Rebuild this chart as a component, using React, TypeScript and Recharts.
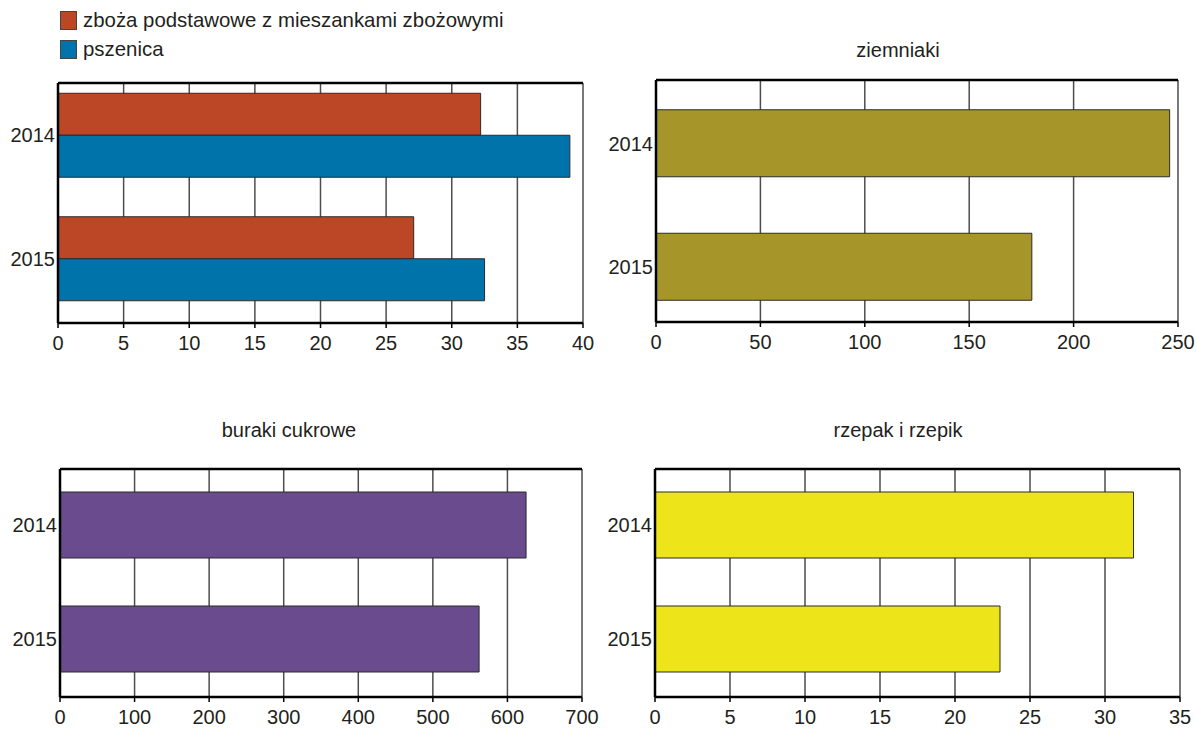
import { BarChart, Bar, XAxis, YAxis, CartesianGrid } from "recharts";

const years = ["2014", "2015"];

const zbozaValues = [32.2, 27.1];
const pszenicaValues = [39.0, 32.5];
const ziemniakiValues = [246, 180];
const burakiValues = [625, 562];
const rzepakValues = [31.9, 23.0];

const zbozaTicks = [0, 5, 10, 15, 20, 25, 30, 35, 40];
const ziemniakiTicks = [0, 50, 100, 150, 200, 250];
const burakiTicks = [0, 100, 200, 300, 400, 500, 600, 700];
const rzepakTicks = [0, 5, 10, 15, 20, 25, 30, 35];

const FONT = "'Liberation Sans', Arial, sans-serif";
const TEXT = "#231f20";
const AXIS = { stroke: "#000", strokeWidth: 2.5 };

const zbozaSeries = [
  { key: "zboza", name: "zboża podstawowe z mieszankami zbożowymi", color: "#bc4727", values: zbozaValues },
  { key: "pszenica", name: "pszenica", color: "#0073ab", values: pszenicaValues },
];

type Series = { key: string; name: string; color: string; values: number[] };

interface PanelProps {
  series: Series[];
  ticks: number[];
  left: number;
  top: number;
  width: number;
  height: number;
  margin: { top: number; right: number; bottom: number; left: number };
  yWidth: number;
  xHeight: number;
  pad: { top: number; bottom: number };
  barSize: number;
}

function Panel({ series, ticks, left, top, width, height, margin, yWidth, xHeight, pad, barSize }: PanelProps) {
  const data = years.map((year, i) => {
    const row: Record<string, string | number> = { year };
    series.forEach((s) => (row[s.key] = s.values[i]));
    return row;
  });
  const domain = [ticks[0], ticks[ticks.length - 1]];

  // top axis takes 1px of the top margin, it only draws the frame line
  return (
    <div style={{ position: "absolute", left, top }}>
      <BarChart
        width={width}
        height={height}
        data={data}
        layout="vertical"
        margin={{ ...margin, top: margin.top - 1 }}
        barGap={0}
      >
        <CartesianGrid horizontal={false} stroke="#4d4d4d" strokeWidth={1.5} />
        <XAxis
          type="number"
          domain={domain}
          ticks={ticks}
          interval={0}
          height={xHeight}
          tickSize={5}
          tickMargin={8}
          axisLine={AXIS}
          tickLine={{ stroke: "#000", strokeWidth: 1.5 }}
          tick={{ fill: TEXT, fontSize: 20, fontFamily: FONT }}
        />
        <XAxis
          xAxisId="top"
          orientation="top"
          type="number"
          domain={domain}
          ticks={ticks}
          height={1}
          tick={false}
          tickLine={false}
          axisLine={AXIS}
        />
        <YAxis
          type="category"
          dataKey="year"
          width={yWidth}
          padding={pad}
          axisLine={AXIS}
          tickLine={false}
          tickSize={0}
          tickMargin={3}
          tick={{ fill: TEXT, fontSize: 20, fontFamily: FONT }}
        />
        {series.map((s) => (
          <Bar
            key={s.key}
            dataKey={s.key}
            name={s.name}
            fill={s.color}
            stroke="#2b2b2b"
            strokeWidth={1}
            barSize={barSize}
            isAnimationActive={false}
          />
        ))}
      </BarChart>
    </div>
  );
}

function Title({ text, x, y }: { text: string; x: number; y: number }) {
  return (
    <div
      style={{
        position: "absolute",
        left: x - 150,
        top: y - 12,
        width: 300,
        textAlign: "center",
        fontSize: 20,
        lineHeight: "24px",
        fontFamily: FONT,
        color: TEXT,
      }}
    >
      {text}
    </div>
  );
}

export default function App() {
  return (
    <div style={{ position: "absolute", left: 0, top: 0, width: 1196, height: 731, background: "#fff", overflow: "hidden" }}>
      {zbozaSeries.map((s, i) => (
        <div
          key={s.key}
          style={{
            position: "absolute",
            left: 60,
            top: 10 + i * 29,
            display: "flex",
            alignItems: "center",
            fontFamily: FONT,
            fontSize: 20.4,
            color: TEXT,
            lineHeight: "20px",
          }}
        >
          <span
            style={{
              display: "inline-block",
              width: 15,
              height: 17,
              background: s.color,
              border: "1px solid #444",
              marginRight: 6,
            }}
          />
          {s.name}
        </div>
      ))}

      <Panel
        series={zbozaSeries}
        ticks={zbozaTicks}
        left={0}
        top={0}
        width={600}
        height={366}
        margin={{ top: 83, right: 17, bottom: 3, left: 0 }}
        yWidth={58}
        xHeight={40}
        pad={{ top: -9.75, bottom: 2.75 }}
        barSize={42}
      />

      <Title text="ziemniaki" x={898} y={50} />
      <Panel
        series={[{ key: "ziemniaki", name: "ziemniaki", color: "#a6962a", values: ziemniakiValues }]}
        ticks={ziemniakiTicks}
        left={600}
        top={0}
        width={596}
        height={366}
        margin={{ top: 80, right: 18, bottom: 4, left: 0 }}
        yWidth={56}
        xHeight={40}
        pad={{ top: 1.75, bottom: -6.75 }}
        barSize={67}
      />

      <Title text="buraki cukrowe" x={289} y={430} />
      <Panel
        series={[{ key: "buraki", name: "buraki cukrowe", color: "#694b8e", values: burakiValues }]}
        ticks={burakiTicks}
        left={0}
        top={366}
        width={600}
        height={365}
        margin={{ top: 103, right: 18, bottom: 0, left: 0 }}
        yWidth={60}
        xHeight={34}
        pad={{ top: -1, bottom: 1 }}
        barSize={66}
      />

      <Title text="rzepak i rzepik" x={898} y={430} />
      <Panel
        series={[{ key: "rzepak", name: "rzepak i rzepik", color: "#ede41a", values: rzepakValues }]}
        ticks={rzepakTicks}
        left={600}
        top={366}
        width={596}
        height={365}
        margin={{ top: 103, right: 16, bottom: 0, left: 0 }}
        yWidth={55}
        xHeight={34}
        pad={{ top: -1, bottom: 1 }}
        barSize={66}
      />
    </div>
  );
}
